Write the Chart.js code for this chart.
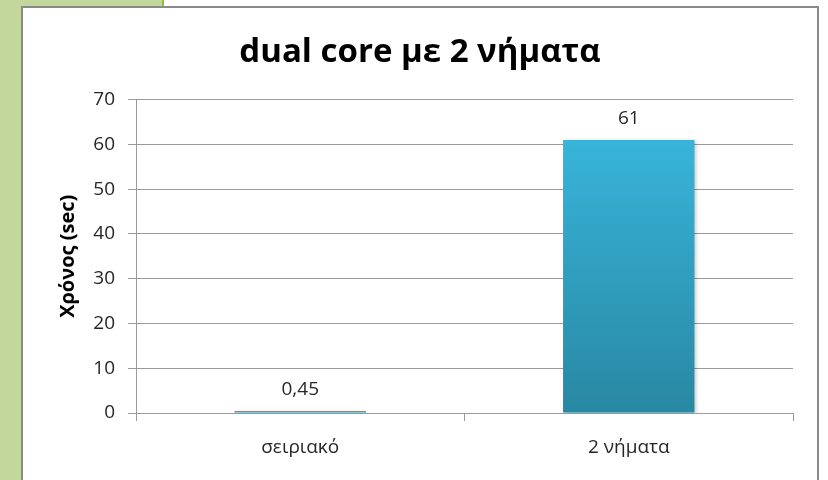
<!DOCTYPE html>
<html>
<head>
<meta charset="utf-8">
<script src="https://cdn.jsdelivr.net/npm/chart.js@4.4.1/dist/chart.umd.min.js"></script>
<style>
  html, body { margin: 0; padding: 0; background: #ffffff; width: 828px; height: 480px; overflow: hidden; }
  #greenLeft { position: absolute; left: 0; top: 0; width: 22px; height: 480px; background: #c3d69b; }
  #greenTop { position: absolute; left: 0; top: 0; width: 163px; height: 7px; background: #c3d69b; }
  #greenLine { position: absolute; left: 162px; top: 0; width: 2px; height: 7px; background: #8cc43c; }
  #frame { position: absolute; left: 21px; top: 6px; width: 794px; height: 490px; border: 2px solid #8a8a8a; background: #ffffff; }
  #wrap { position: absolute; left: 22px; top: 0; width: 796px; height: 480px; }
</style>
</head>
<body>
<div id="greenLeft"></div>
<div id="greenTop"></div>
<div id="greenLine"></div>
<div id="frame"></div>
<div id="wrap"><canvas id="c" width="796" height="480"></canvas></div>
<script>
const chartTitle = "dual core με 2 νήματα";
const yAxisTitle = "Χρόνος (sec)";
const categories = ["σειριακό", "2 νήματα"];
const timeValues = [0.45, 61];
const yTicks = [0, 10, 20, 30, 40, 50, 60, 70];

const FONT = "'Open Sans', 'DejaVu Sans', sans-serif";

function barGradient(context) {
  const chart = context.chart;
  const area = chart.chartArea;
  if (!area) return '#33a8cc';
  const y = chart.scales.y;
  const v = context.raw;
  const top = y.getPixelForValue(v);
  const bottom = y.getPixelForValue(0);
  const g = chart.ctx.createLinearGradient(0, top, 0, Math.max(bottom, top + 1));
  g.addColorStop(0, '#38b4da');
  g.addColorStop(1, '#2888a2');
  return g;
}

const valueLabels = {
  id: 'valueLabels',
  afterDatasetsDraw(chart) {
    const ctx = chart.ctx;
    const meta = chart.getDatasetMeta(0);
    ctx.save();
    ctx.font = "19px " + FONT;
    ctx.fillStyle = '#262626';
    ctx.textAlign = 'center';
    ctx.textBaseline = 'middle';
    meta.data.forEach((bar, i) => {
      const txt = String(timeValues[i]).replace('.', ',');
      ctx.fillText(txt, bar.x, bar.y - 21);
    });
    ctx.restore();
  }
};

const barShadow = {
  id: 'barShadow',
  beforeDatasetsDraw(chart) {
    const ctx = chart.ctx;
    ctx.save();
    ctx.shadowColor = 'rgba(0,0,0,0.22)';
    ctx.shadowBlur = 4;
    ctx.shadowOffsetX = 2;
    ctx.shadowOffsetY = 1;
  },
  afterDatasetsDraw(chart) {
    chart.ctx.restore();
  }
};

new Chart(document.getElementById('c'), {
  type: 'bar',
  data: {
    labels: categories,
    datasets: [{
      data: timeValues,
      backgroundColor: barGradient,
      borderWidth: 0,
      categoryPercentage: 0.4,
      barPercentage: 1.0
    }]
  },
  plugins: [barShadow, valueLabels],
  options: {
    responsive: false,
    animation: false,
    devicePixelRatio: 1,
    layout: { padding: { left: 25, right: 25, top: 0, bottom: 0 } },
    plugins: {
      legend: { display: false },
      tooltip: { enabled: false },
      title: {
        display: true,
        text: chartTitle,
        color: '#000000',
        font: { family: FONT, size: 33, weight: 'bold' },
        padding: { top: 33, bottom: 27 }
      }
    },
    scales: {
      x: {
        grid: {
          offset: true,
          drawOnChartArea: false,
          drawTicks: true,
          tickLength: 8,
          color: '#9a9a9a',
          lineWidth: 1
        },
        border: { display: true, color: '#9a9a9a', width: 1 },
        ticks: {
          color: '#262626',
          font: { family: FONT, size: 19 },
          padding: 15,
          maxRotation: 0
        },
        afterFit(scale) { scale.height = 67; }
      },
      y: {
        min: 0,
        max: 70,
        afterBuildTicks(scale) { scale.ticks = yTicks.map(v => ({ value: v })); },
        grid: {
          color: '#9a9a9a',
          lineWidth: 1,
          drawTicks: true,
          tickLength: 8
        },
        border: { display: true, color: '#9a9a9a', width: 1 },
        ticks: {
          color: '#262626',
          font: { family: FONT, size: 19 },
          padding: 13
        },
        title: {
          display: true,
          text: yAxisTitle,
          color: '#000000',
          font: { family: FONT, size: 20, weight: 'bold' },
          padding: { top: 9, bottom: 0 }
        },
        afterFit(scale) { scale.width = 89; }
      }
    }
  }
});
</script>
</body>
</html>
